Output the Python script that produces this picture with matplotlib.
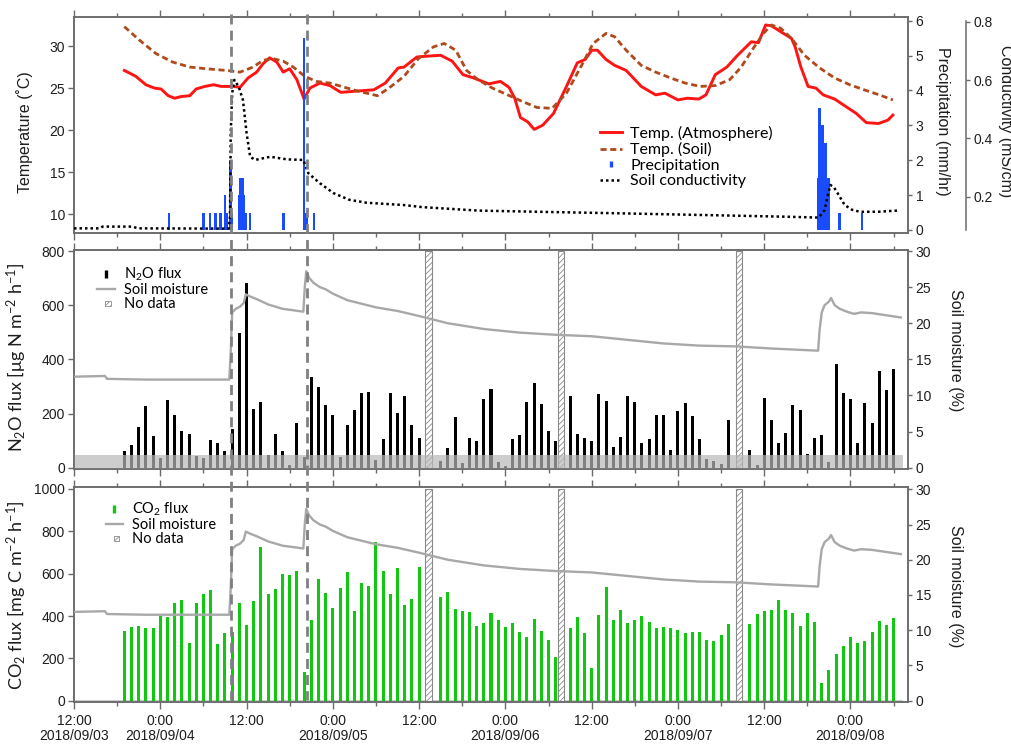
import numpy as np
import matplotlib
matplotlib.use('Agg')
import matplotlib.pyplot as plt
import matplotlib.patches as mpatches
import matplotlib.transforms as mtransforms
from matplotlib.lines import Line2D
from matplotlib.legend_handler import HandlerPatch

plt.rcParams['font.family'] = ['Liberation Sans', 'DejaVu Sans']
plt.rcParams['mathtext.fontset'] = 'custom'
plt.rcParams['mathtext.rm'] = 'Lato'
plt.rcParams['mathtext.it'] = 'Lato:italic'
plt.rcParams['mathtext.bf'] = 'Lato:bold'
plt.rcParams['hatch.linewidth'] = 0.6
plt.rcParams['xtick.labelsize'] = 10
plt.rcParams['ytick.labelsize'] = 10

# ---------------- data (x = hours since 2018/09/03 12:00) ----------------
tick_hours = [0, 12, 24, 36, 48, 60, 72, 84, 96, 108]
tick_labels = ['12:00\n2018/09/03', '0:00\n2018/09/04', '12:00', '0:00\n2018/09/05',
               '12:00', '0:00\n2018/09/06', '12:00', '0:00\n2018/09/07', '12:00',
               '0:00\n2018/09/08']
minor_hours = [6, 18, 30, 42, 54, 66, 78, 90, 102, 114]

rain_event_hours = [21.85, 32.4]
nodata_start = [48.85, 67.35, 92.05]
nodata_end = [49.85, 68.15, 92.85]

temp_air_hours = [7.0, 8.6, 10, 11.2, 12.1, 13.1, 14.0, 14.9, 16.1, 17.0, 18.2, 19.4, 20.5,
                  22.2, 23.1, 24.2, 25.4, 26.3, 27.2, 28.2, 29.1, 30.0, 31.0, 32.0, 32.8,
                  34.2, 35.6, 37.1, 38.6, 41.7, 43.3, 45.1, 45.9, 47.7, 49.2, 51.0, 52.6,
                  54.1, 55.6, 57.7, 59.3, 60.5, 61.3, 62.1, 63.1, 64.0, 65.2, 66.7, 68.5,
                  70.0, 71.1, 72.0, 72.8, 74.0, 75.2, 76.8, 78.9, 80.9, 82.2, 84.0, 85.3,
                  86.9, 87.9, 89.2, 90.8, 92.3, 94.2, 95.2, 96.2, 97.0, 98.3, 99.8, 100.3,
                  101.1, 102.1, 103.2, 104.2, 105.8, 107.2, 108.8, 110.2, 111.9, 113.2, 113.9]
temp_air = [27.1, 26.4, 25.4, 25.0, 24.9, 24.1, 23.8, 24.0, 24.1, 24.9, 25.2, 25.4, 25.2,
            25.2, 25.1, 26.2, 26.9, 27.9, 28.6, 28.1, 26.9, 27.3, 26.0, 23.7, 25.0,
            25.6, 25.3, 24.5, 24.6, 24.8, 25.6, 27.4, 27.5, 28.7, 28.8, 28.9, 28.2,
            26.6, 26.2, 25.5, 25.8, 25.1, 23.8, 21.5, 21.0, 20.1, 20.6, 22.0, 25.2,
            28.0, 28.4, 29.5, 29.5, 28.4, 27.7, 27.1, 25.2, 24.2, 24.4, 23.6, 23.8,
            23.7, 24.2, 26.6, 27.5, 28.9, 30.5, 30.4, 32.5, 32.4, 31.7, 30.9, 29.9,
            27.5, 25.2, 25.0, 24.2, 23.7, 22.9, 22.0, 20.9, 20.8, 21.2, 21.8]

temp_soil_hours = [7, 9.1, 11.4, 13.7, 16.1, 18.4, 21.2, 23.1, 24.9, 26.3, 27.7, 29.1, 30.5,
                   32.1, 33.7, 35.6, 37.6, 39.7, 42.2, 43.8, 45.9, 47.9, 50.0, 51.5, 53.1,
                   54.6, 56.2, 58.2, 60.3, 62.4, 64.4, 66.5, 68.5, 70.6, 72.2, 74.0, 75.2,
                   76.8, 78.9, 80.9, 83.0, 85.0, 87.1, 89.2, 91.2, 92.8, 94.3, 95.9, 97.0,
                   98.3, 99.8, 101.6, 103.7, 105.8, 107.9, 109.9, 112.0, 113.9]
temp_soil = [32.3, 30.7, 29.1, 28.1, 27.5, 27.3, 27.1, 26.9, 27.5, 28.3, 28.5, 28.2, 27.5,
             26.4, 25.8, 25.6, 25.1, 24.6, 24.1, 25.0, 26.4, 28.5, 29.9, 30.3, 29.5,
             27.1, 26.0, 25.0, 24.2, 23.4, 22.7, 22.6, 24.4, 27.7, 30.3, 31.5, 31.1,
             29.5, 27.7, 26.9, 26.2, 25.6, 25.2, 25.3, 26.0, 27.5, 29.5, 31.5, 32.5,
             32.1, 30.9, 28.9, 27.4, 26.2, 25.4, 24.8, 24.2, 23.6]

precip_hours = [13.2, 18.0, 18.9, 19.7, 20.4, 21.0, 21.3, 21.7, 21.85, 22.0, 23.0, 23.17,
                23.33, 23.5, 23.67, 23.83, 24.5, 29.1, 32.0, 32.3, 33.4, 103.5, 103.67,
                103.83, 104.0, 104.17, 104.33, 104.5, 104.67, 104.83, 105.0, 106.5, 109.6]
precip = [0.5, 0.5, 0.5, 0.5, 0.5, 1.0, 0.5, 2.0, 2.0, 0.5, 1.0, 1.5,
          1.5, 1.5, 1.0, 0.5, 0.5, 0.5, 5.5, 0.5, 0.5, 1.5, 3.5,
          3.0, 3.0, 3.0, 2.5, 2.5, 1.5, 1.5, 1.5, 0.5, 0.5]

cond_hours = [0, 3.5, 4, 8, 9, 21.5, 21.7, 21.8, 22.0, 22.3, 22.9, 23.5, 24.0, 24.5, 25.2,
              27.3, 29.6, 31.9, 32.6, 34.2, 36.1, 38.3, 40.7, 45.9, 48.4, 56.2, 66.5, 75.2,
              87.1, 99.0, 103.6, 104.4, 104.8, 105.2, 105.7, 106.2, 107.2, 108.2, 109.3,
              111.9, 114.5]
cond = [0.091, 0.091, 0.097, 0.097, 0.091, 0.090, 0.131, 0.42, 0.555, 0.601, 0.578, 0.532,
        0.419, 0.337, 0.326, 0.337, 0.328, 0.326, 0.28, 0.246, 0.212, 0.189, 0.179, 0.171,
        0.164, 0.152, 0.147, 0.143, 0.137, 0.131, 0.128, 0.154, 0.20, 0.240, 0.232, 0.212,
        0.171, 0.155, 0.148, 0.148, 0.152]

sm_hours = [0, 4.3, 4.6, 10, 21.6, 21.8, 22.0, 22.5, 23.1, 23.6, 23.9, 24.5, 25.5, 27, 29,
            31.2, 31.9, 32.1, 32.3, 32.7, 33.3, 34.2, 35, 36, 38, 40, 42, 45, 48, 52, 57, 62,
            67, 72, 77, 82, 87, 92, 97, 103.5, 103.7, 104.0, 104.4, 105.0, 105.3, 105.8,
            106.5, 107.5, 108.5, 109.5, 111, 113, 115.0]
soil_moisture = [12.6, 12.7, 12.3, 12.2, 12.2, 16.0, 21.5, 22.0, 22.3, 22.8, 24.0, 23.7,
                 23.3, 22.6, 22.0, 21.7, 21.6, 25.0, 27.2, 26.3, 25.6, 25.0, 24.7, 24.1,
                 23.2, 22.7, 22.2, 21.7, 21.0, 20.0, 19.2, 18.7, 18.4, 18.2, 17.7, 17.2,
                 16.9, 16.8, 16.5, 16.2, 19.0, 21.5, 22.5, 23.0, 23.5, 22.5, 22.0, 21.6,
                 21.3, 21.5, 21.4, 21.1, 20.8]

flux_hours = list(range(7, 115))
nan = np.nan
n2o_flux = [63, 84, 150, 229, 117, 36, 249, 196, 134, 126,
            43, 36, 102, 91, 63, 143, 497, 682, 218, 241,
            47, 126, 63, 9, 165, 39, 334, 299, 233, 193,
            38, 157, 213, 275, 279, 28, 106, 275, 202, 266,
            156, 108, nan, nan, 25, 72, 188, 17, 108, 97,
            252, 289, 22, 8, 106, 121, 241, 312, 235, 134,
            100, nan, 265, 126, 108, 100, 272, 246, 78, 112,
            266, 244, 90, 106, 196, 193, 66, 210, 238, 191,
            106, 32, 25, 14, 176, nan, nan, 64, 10, 258,
            176, 90, 128, 230, 213, 50, 108, 121, 22, 383,
            275, 252, 92, 238, 165, 356, 286, 364]
co2_flux = [331, 348, 353, 345, 345, 398, 397, 463, 474, 272,
            460, 502, 521, 268, 320, 324, 461, 359, 471, 726,
            506, 528, 598, 592, 614, 135, 380, 575, 510, 438,
            531, 606, 424, 556, 542, 750, 611, 502, 625, 452,
            480, 631, nan, nan, 490, 512, 435, 424, 419, 353,
            369, 416, 383, 348, 369, 323, 301, 384, 329, 287,
            208, nan, 345, 395, 320, 156, 405, 535, 380, 427,
            369, 383, 402, 372, 345, 346, 345, 335, 320, 323,
            326, 287, 282, 310, 362, nan, nan, 362, 409, 422,
            430, 477, 427, 413, 351, 416, 372, 82, 145, 222,
            258, 301, 272, 282, 326, 375, 357, 391]
n2o_band = [-3, 46]

# ---------------- styling ----------------
red = '#ff1414'
brown = '#b04a1c'
blue = '#1a4cff'
green = '#10c810'
smgray = '#a8a8a8'
spine_c = '#6a6a6a'
txt_c = '#1e1e1e'
legend_font = {'family': 'Lato', 'size': 11.5}

W, H = 1012, 744
fig = plt.figure(figsize=(W / 100, H / 100), dpi=100)


def rect(l, t, r, b):
    return [l / W, 1 - b / H, (r - l) / W, (b - t) / H]


ax_t = fig.add_axes(rect(74, 17.3, 908, 233.3))
ax_m = fig.add_axes(rect(74, 250, 908, 469))
ax_b = fig.add_axes(rect(74, 487.3, 908, 701.7))


def style_common(ax, labels=False):
    ax.set_xlim(0, 116)
    ax.set_xticks(tick_hours)
    ax.set_xticks(minor_hours, minor=True)
    if labels:
        ax.set_xticklabels(tick_labels, linespacing=1.1)
    else:
        ax.set_xticklabels([])
    ax.tick_params(axis='x', which='major', direction='out', length=5, width=1,
                   color=spine_c, top=True, bottom=True, labelcolor=txt_c, pad=4)
    ax.tick_params(axis='x', which='minor', direction='out', length=3, width=1,
                   color=spine_c, top=True, bottom=True)
    ax.tick_params(axis='y', direction='out', length=4, width=1, color=spine_c,
                   labelcolor=txt_c, pad=2.5)
    for s in ax.spines.values():
        s.set_color(spine_c)
        s.set_linewidth(1.1)


def style_twin(ax):
    ax.tick_params(axis='y', direction='out', length=3, width=1, color=spine_c,
                   labelcolor=txt_c, pad=2.5)
    for s in ax.spines.values():
        s.set_color(spine_c)
        s.set_linewidth(1.1)


# ---------------- top panel ----------------
style_common(ax_t)
ax_t.plot(temp_air_hours, temp_air, color=red, lw=2.1, zorder=3)
ax_t.plot(temp_soil_hours, temp_soil, color=brown, lw=2.0, ls=(0, (2.2, 1.3)), zorder=3)
ax_t.set_ylim(7.76, 33.41)
ax_t.set_yticks([10, 15, 20, 25, 30])
ax_t.set_ylabel('Temperature (˚C)', fontsize=11.5, color=txt_c)
ax_t.yaxis.set_label_coords(-0.049, 0.467)

ax_p = ax_t.twinx()
style_twin(ax_p)
ax_p.bar(precip_hours, precip, width=0.36, color=blue, edgecolor='none', zorder=3)
ax_p.set_ylim(-0.095, 6.098)
ax_p.set_yticks([0, 1, 2, 3, 4, 5, 6])
ax_p.set_ylabel('Precipitation (mm/hr)', fontsize=11.5, color=txt_c, rotation=270,
                va='bottom')
ax_p.yaxis.set_label_coords(1.0324, 0.52)

ax_c = ax_t.twinx()
ax_c.plot(cond_hours, cond, color='black', lw=1.8, ls=(0, (1, 1.2)), zorder=3)
ax_c.set_ylim(0.074, 0.816)
ax_c.set_yticks([0.2, 0.4, 0.6, 0.8])
ax_c.spines['right'].set_position(('outward', 41.8))
ax_c.spines['right'].set_bounds(0.085, 0.803)
style_twin(ax_c)
for k in ['top', 'bottom', 'left']:
    ax_c.spines[k].set_visible(False)
ax_c.set_ylabel('Conductivity (mS/cm)', fontsize=11.5, color=txt_c, rotation=270,
                va='bottom')
ax_c.yaxis.set_label_coords(1.108, 0.52)

h_air = Line2D([], [], color=red, lw=2.1)
h_soil = Line2D([], [], color=brown, lw=2.0, ls=(0, (2.2, 1.3)))
h_prec = Line2D([], [], color=blue, marker='|', markersize=5, mew=2.4, ls='none')
h_cond = Line2D([], [], color='black', lw=1.8, ls=(0, (1, 1.2)))
ax_c.legend([h_air, h_soil, h_prec, h_cond],
            ['Temp. (Atmosphere)', 'Temp. (Soil)', 'Precipitation', 'Soil conductivity'],
            loc='upper left', bbox_to_anchor=(600 / W, 1 - 126 / H),
            bbox_transform=fig.transFigure, frameon=False, borderpad=0,
            borderaxespad=0, handlelength=1.4, handletextpad=0.5, labelspacing=0.08,
            prop=legend_font)


# ---------------- helper for legend hatch square ----------------
def small_square(legend, orig_handle, xdescent, ydescent, width, height, fontsize):
    w, h = 4.0, 3.2
    return mpatches.Rectangle((-xdescent + width / 2 - w / 2 + 1.5,
                               -ydescent + height / 2 - h / 2), w, h)


hatch_handler = HandlerPatch(patch_func=small_square)
leg_font2 = {'family': 'Lato', 'size': 10.5}

# ---------------- middle panel ----------------
style_common(ax_m)
ax_m.bar(flux_hours, n2o_flux, width=0.42, color='black', edgecolor='none', zorder=2)
for s, e in zip(nodata_start, nodata_end):
    ax_m.add_patch(mpatches.Rectangle((s, 0), e - s, 800, facecolor='white',
                                      edgecolor='#8a8a8a', hatch='//////', lw=0.8,
                                      zorder=3))
ax_m.fill_between([0, 115.3], n2o_band[0], n2o_band[1], color='#b8b8b8', alpha=0.7,
                  lw=0, zorder=4)
ax_m.set_ylim(-4.8, 803.7)
ax_m.set_yticks([0, 200, 400, 600, 800])
ax_m.set_ylabel('N$_2$O flux [μg N m$^{-2}$ h$^{-1}$]', fontsize=13, color=txt_c,
                family=['Lato', 'DejaVu Sans'])
ax_m.yaxis.set_label_coords(-0.054, 0.511)

ax_m2 = ax_m.twinx()
style_twin(ax_m2)
ax_m2.plot(sm_hours, soil_moisture, color=smgray, lw=1.7, zorder=3)
ax_m2.set_ylim(-0.18, 30.14)
ax_m2.set_yticks([0, 5, 10, 15, 20, 25, 30])
ax_m2.set_ylabel('Soil moisture (%)', fontsize=11.5, color=txt_c, rotation=270,
                 va='bottom')
ax_m2.yaxis.set_label_coords(1.048, 0.543)

h_n2o = Line2D([], [], color='black', marker='|', markersize=6, mew=2.4, ls='none')
h_sm = Line2D([], [], color=smgray, lw=1.7)
h_nd = mpatches.Patch(facecolor='white', edgecolor='#8a8a8a', hatch='//////', lw=0.6)
ax_m2.legend([h_n2o, h_sm, h_nd], ['N$_2$O flux', 'Soil moisture', 'No data'],
             loc='upper left', bbox_to_anchor=(97 / W, 1 - 266 / H),
             bbox_transform=fig.transFigure, frameon=False, borderpad=0,
             borderaxespad=0, handlelength=1.25, handletextpad=0.6, labelspacing=0.0,
             prop=leg_font2, handler_map={mpatches.Patch: hatch_handler})

# ---------------- bottom panel ----------------
style_common(ax_b, labels=True)
ax_b.fill_between([0, 115.3], -4, 4, color='#cccccc', lw=0, zorder=1)
ax_b.bar(flux_hours, co2_flux, width=0.42, color=green, edgecolor='none', zorder=2)
for s, e in zip(nodata_start, nodata_end):
    ax_b.add_patch(mpatches.Rectangle((s, 0), e - s, 1000, facecolor='white',
                                      edgecolor='#8a8a8a', hatch='//////', lw=0.8,
                                      zorder=3))
ax_b.set_ylim(-4.7, 1008)
ax_b.set_yticks([0, 200, 400, 600, 800, 1000])
ax_b.set_ylabel('CO$_2$ flux [mg C m$^{-2}$ h$^{-1}$]', fontsize=13, color=txt_c,
                family=['Lato', 'DejaVu Sans'])
ax_b.yaxis.set_label_coords(-0.054, 0.498)

ax_b2 = ax_b.twinx()
style_twin(ax_b2)
ax_b2.plot(sm_hours, soil_moisture, color=smgray, lw=1.7, zorder=3)
ax_b2.set_ylim(-0.14, 30.28)
ax_b2.set_yticks([0, 5, 10, 15, 20, 25, 30])
ax_b2.set_ylabel('Soil moisture (%)', fontsize=11.5, color=txt_c, rotation=270,
                 va='bottom')
ax_b2.yaxis.set_label_coords(1.048, 0.54)

h_co2 = Line2D([], [], color=green, marker='|', markersize=6, mew=2.4, ls='none')
ax_b2.legend([h_co2, h_sm, h_nd], ['CO$_2$ flux', 'Soil moisture', 'No data'],
             loc='upper left', bbox_to_anchor=(106 / W, 1 - 501 / H),
             bbox_transform=fig.transFigure, frameon=False, borderpad=0,
             borderaxespad=0, handlelength=1.15, handletextpad=0.65, labelspacing=0.0,
             prop=leg_font2, handler_map={mpatches.Patch: hatch_handler})

# ---------------- rain event dashed lines across panels ----------------
trans = mtransforms.blended_transform_factory(ax_t.transData, fig.transFigure)
for h in rain_event_hours:
    fig.add_artist(Line2D([h, h], [1 - 14 / H, 1 - 700 / H], transform=trans,
                          color='#808080', lw=2.0, ls=(0, (3.6, 2.2)), zorder=10))

fig.savefig('out.png', dpi=100)
